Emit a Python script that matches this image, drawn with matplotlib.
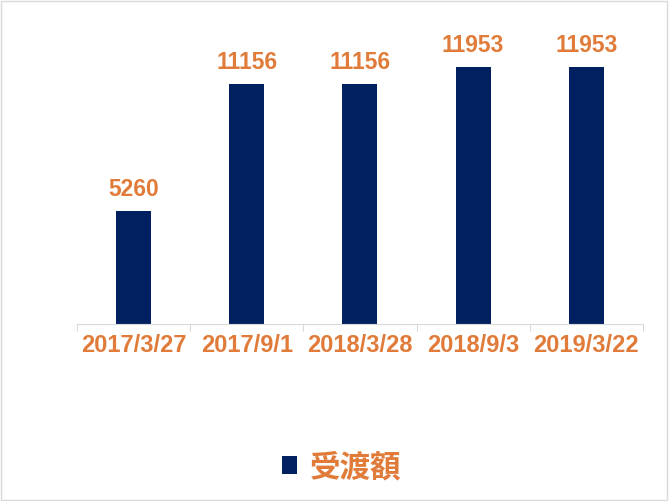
import numpy as np
import matplotlib.pyplot as plt

dates = ['2017/3/27', '2017/9/1', '2018/3/28', '2018/9/3', '2019/3/22']
values = [5260, 11156, 11156, 11953, 11953]
series_name = '受渡額'

bar_color = '#002060'
text_color = '#E07B39'

fig = plt.figure(figsize=(6.72, 5.01), dpi=100)
ax = fig.add_axes([0.1146, 0.353, 0.842, 0.601])

x = np.arange(len(dates))
bars = ax.bar(x, values, width=0.31, color=bar_color, label=series_name)

ax.set_xlim(-0.5, len(dates) - 0.5)
ax.set_ylim(0, 14000)
ax.set_yticks([])
for s in ['top', 'right', 'left']:
    ax.spines[s].set_visible(False)
ax.spines['bottom'].set_color('#D9D9D9')

# category boundary ticks
ax.set_xticks(np.arange(-0.5, len(dates)), minor=False)
ax.set_xticklabels([])
ax.tick_params(axis='x', which='major', length=5, color='#D9D9D9')
ax.set_xticks(x, minor=True)
ax.set_xticklabels(dates, minor=True, fontsize=17, fontweight='bold',
                   color=text_color, family='Liberation Sans')
ax.tick_params(axis='x', which='minor', length=0, pad=7)

for b, v in zip(bars, values):
    ax.annotate(str(v), (b.get_x() + b.get_width() / 2, v), xytext=(0, 7),
                textcoords='offset points', ha='center', va='bottom',
                fontsize=16.5, fontweight='bold', color=text_color,
                family='Liberation Sans')

leg = fig.legend(loc='center', bbox_to_anchor=(0.508, 0.068), frameon=False,
                 handlelength=0.5, handleheight=0.5, handletextpad=0.4,
                 prop={'family': ['Noto Sans CJK JP', 'DejaVu Sans'],
                       'size': 22, 'weight': 'bold'})
for t in leg.get_texts():
    t.set_color(text_color)

fig.patches.append(plt.Rectangle((0.002, 0.002), 0.99, 0.996,
                                 transform=fig.transFigure, fill=False,
                                 edgecolor='#D9D9D9', linewidth=1))

fig.savefig('out.png', dpi=100)
